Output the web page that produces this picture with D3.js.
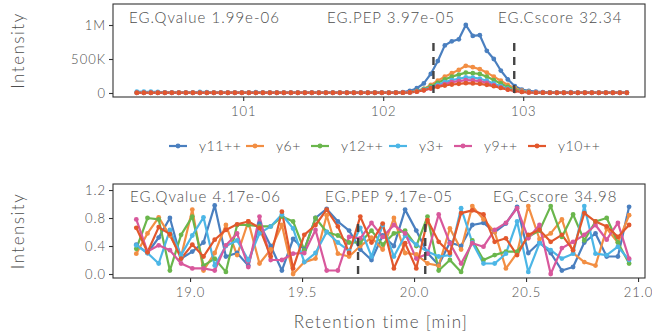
<!DOCTYPE html>
<html>
<head>
<meta charset="utf-8">
<script src="https://cdn.jsdelivr.net/npm/d3@7"></script>
<style>
  body { margin: 0; background: #fff; }
  svg text { font-family: Lato, 'DejaVu Sans', sans-serif; font-weight: 300; fill: #4d4d4d; }
</style>
</head>
<body>
<div id="chart"></div>
<script>
// fragment names, in legend / draw order
const fragments = ["y11++", "y6+", "y12++", "y3+", "y9++", "y10++"];
const colors = ["#4a7fbf", "#f28e43", "#6ab64c", "#4cb6e6", "#d8589c", "#e2572c"];

// ---- top panel: raw intensities (in K) ----
const rtTop = [100.24,100.29,100.34,100.39,100.44,100.49,100.54,100.59,100.64,100.69,
    100.74,100.79,100.84,100.89,100.94,100.99,101.04,101.09,101.14,101.19,
    101.24,101.29,101.34,101.39,101.44,101.49,101.54,101.59,101.64,101.69,
    101.74,101.79,101.84,101.89,101.94,101.99,102.04,102.09,102.14,102.19,
    102.24,102.29,102.34,102.39,102.44,102.49,102.54,102.59,102.64,102.69,
    102.74,102.79,102.84,102.89,102.94,102.99,103.04,103.09,103.14,103.19,
    103.24,103.29,103.34,103.39,103.44,103.49,103.54,103.59,103.64,103.69,103.74];

const y11Top = [5,6,5,4,5,5,6,5,4,5, 5,5,6,5,5,4,5,5,5,6, 5,5,4,5,5,5,6,5,5,5, 4,5,5,5,6,5,5,8,
    12,30,70,140,280,470,700,760,790,1000,840,850,620,500,330,200,100,50,30,20,12,
    8,6,5,5,5,4,5,5,5,5,4,5];
const y6Top = [3,3,3,3,3,3,3,3,3,3, 3,3,3,3,3,3,3,3,3,3, 3,3,3,3,3,3,3,3,3,3, 3,3,3,3,3,3,3,4,
    5,10,25,60,120,180,240,290,340,400,380,350,300,240,180,120,70,35,18,10,6,
    4,3,3,3,3,3,3,3,3,3,3,3];
const y12Top = [3,3,3,3,3,3,3,3,3,3, 3,3,3,3,3,3,3,3,3,3, 3,3,3,3,3,3,3,3,3,3, 3,3,3,3,3,3,3,3,
    4,10,30,60,100,150,200,240,270,300,290,280,240,190,140,90,50,25,12,7,5,
    4,3,3,3,3,3,3,3,3,3,3,3];
const y3Top = [20,18,18,16,8,6,6,6,6,15, 14,6,6,6,6,6,6,14,6,6, 6,6,6,6,6,6,6,6,6,6, 6,6,6,6,6,6,6,6,
    6,10,25,50,80,120,160,190,210,230,225,210,180,140,100,65,35,20,15,10,8,
    8,6,6,12,6,6,6,6,6,6,6,6];
const y9Top = [3,3,3,3,3,3,3,3,3,3, 3,3,3,3,3,3,3,3,3,3, 3,3,3,3,3,3,3,3,3,3, 3,3,3,3,3,3,3,3,
    4,8,20,40,65,100,130,160,175,190,185,175,150,115,80,50,30,15,8,5,4,
    3,3,3,3,3,3,3,3,3,3,3,3];
const y10Top = [4,4,4,4,4,4,4,4,4,4, 4,4,4,4,4,4,4,4,4,4, 4,4,4,4,4,4,4,4,4,4, 4,4,4,4,4,4,4,4,
    4,8,20,40,70,90,110,125,135,145,140,135,120,100,75,50,30,15,8,5,4,
    4,4,4,4,4,4,4,4,4,4,4,4];

// ---- bottom panel: normalised intensities ----
const rtBottom = [18.76,18.81,18.86,18.91,18.96,19.01,19.06,19.11,19.16,19.21,
    19.26,19.31,19.36,19.41,19.46,19.51,19.56,19.61,19.66,19.71,
    19.76,19.81,19.86,19.91,19.96,20.01,20.06,20.11,20.16,20.21,
    20.26,20.31,20.36,20.41,20.46,20.51,20.56,20.61,20.66,20.71,
    20.76,20.81,20.86,20.91,20.96];

const y11Bottom = [0.42,0.30,0.52,0.80,0.22,0.32,0.45,0.98,0.25,0.30, 0.12,0.72,0.40,0.05,0.50,0.35,0.80,0.93,0.75,0.62,
    0.35,0.20,0.55,0.40,0.92,0.62,0.30,0.13,0.45,0.40, 0.70,0.73,0.60,0.72,0.96,0.30,0.45,0.30,0.05,0.10, 0.45,0.58,0.25,0.25,0.96];
const y6Bottom = [0.29,0.58,0.81,0.55,0.25,0.92,0.05,0.30,0.70,0.27, 0.75,0.15,0.35,0.70,0.00,0.17,0.22,0.84,0.29,0.25,
    0.40,0.52,0.35,0.80,0.30,0.28,0.15,0.12,0.65,0.35, 0.97,0.78,0.60,0.08,0.30,0.97,0.50,0.58,0.78,0.30, 0.17,0.12,0.65,0.45,0.84];
const y12Bottom = [0.36,0.80,0.78,0.05,0.56,0.82,0.12,0.22,0.03,0.70, 0.70,0.68,0.68,0.82,0.75,0.34,0.80,0.60,0.55,0.45,
    0.45,0.62,0.42,0.58,0.62,0.40,0.82,0.05,0.20,0.03, 0.48,0.20,0.27,0.32,0.32,0.53,0.62,0.97,0.53,0.85, 0.48,0.75,0.80,0.45,0.15];
const y3Bottom = [0.41,0.30,0.15,0.63,0.27,0.55,0.81,0.12,0.40,0.48, 0.20,0.58,0.68,0.85,0.65,0.17,0.30,0.60,0.45,0.33,
    0.66,0.25,0.70,0.25,0.55,0.42,0.32,0.25,0.27,0.94, 0.45,0.15,0.15,0.29,0.75,0.03,0.44,0.34,0.22,0.29, 0.97,0.29,0.27,0.39,0.20];
const y9Bottom = [0.78,0.32,0.41,0.34,0.15,0.08,0.08,0.05,0.41,0.58, 0.10,0.82,0.20,0.20,0.29,0.30,0.63,0.05,0.05,0.53,
    0.51,0.73,0.53,0.70,0.58,0.22,0.29,0.85,0.44,0.15, 0.44,0.39,0.63,0.73,0.94,0.51,0.70,0.00,0.37,0.46, 0.56,0.70,0.49,0.73,0.22];
const y10Bottom = [0.66,0.31,0.67,0.57,0.22,0.42,0.25,0.49,0.63,0.71, 0.75,0.66,0.25,0.89,0.08,0.56,0.70,0.92,0.68,0.30,
    0.82,0.45,0.72,0.08,0.44,0.08,0.77,0.46,0.30,0.87, 0.91,0.85,0.46,0.51,0.27,0.56,0.63,0.46,0.56,0.34, 0.87,0.75,0.68,0.53,0.70];

// peak boundaries (dashed lines) and scores
const boundsTop = [102.359, 102.936];
const boundsBottom = [19.75, 20.05];
const dashTopK = 820, dashBottom = 0.8;
const scoresTop = ["EG.Qvalue 1.99e-06", "EG.PEP 3.97e-05", "EG.Cscore 32.34"];
const scoresBottom = ["EG.Qvalue 4.17e-06", "EG.PEP 9.17e-05", "EG.Cscore 34.98"];

const topTicksX = [101, 102, 103];
const topTicksY = [0, 500, 1000];
const topTickLabelsY = ["0", "500K", "1M"];
const bottomTicksX = [19.0, 19.5, 20.0, 20.5, 21.0];
const bottomTicksY = [0.0, 0.4, 0.8, 1.2];

const topSeries = [y11Top, y6Top, y12Top, y3Top, y9Top, y10Top];
const bottomSeries = [y11Bottom, y6Bottom, y12Bottom, y3Bottom, y9Bottom, y10Bottom];

const width = 652, height = 331;
const svg = d3.select("#chart").append("svg")
    .attr("width", width)
    .attr("height", height);

function drawPanel(opt) {
    let x = d3.scaleLinear().domain(opt.xDomain).range([113, 645]);
    let y = d3.scaleLinear().domain(opt.yDomain).range([opt.bottom, opt.top]);

    let g = svg.append("g");

    // axes
    let xAxis = d3.axisBottom(x).tickValues(opt.xTicks).tickSize(4).tickPadding(6)
        .tickFormat(opt.xFormat);
    let yAxis = d3.axisLeft(y).tickValues(opt.yTicks).tickSize(4).tickPadding(3)
        .tickFormat(opt.yFormat);

    let gx = g.append("g").attr("transform", `translate(0, ${opt.bottom})`).call(xAxis);
    let gy = g.append("g").attr("transform", `translate(113, 0)`).call(yAxis);
    [gx, gy].forEach(a => {
        a.select(".domain").remove();
        a.selectAll(".tick line").attr("stroke", "#333").attr("stroke-width", 1.1);
        a.selectAll(".tick text").style("font-size", "13px").style("fill", "#4d4d4d")
            .style("font-family", "Lato, 'DejaVu Sans', sans-serif")
            .style("letter-spacing", "1px");
    });

    // lines
    let line = d3.line().x(d => x(d[0])).y(d => y(d[1]));
    opt.series.forEach((s, i) => {
        let pts = opt.rt.map((t, j) => [t, s[j]]);
        g.append("path").datum(pts)
            .attr("d", line)
            .attr("fill", "none")
            .attr("stroke", colors[i])
            .attr("stroke-width", 2.2)
            .attr("stroke-linejoin", "round");
    });
    opt.series.forEach((s, i) => {
        g.append("g").selectAll("circle")
            .data(opt.rt.map((t, j) => [t, s[j]]))
            .enter().append("circle")
            .attr("cx", d => x(d[0]))
            .attr("cy", d => y(d[1]))
            .attr("r", 2.4)
            .attr("fill", colors[i]);
    });

    // dashed peak boundaries
    opt.bounds.forEach(b => {
        g.append("line")
            .attr("x1", x(b)).attr("x2", x(b))
            .attr("y1", y(0)).attr("y2", y(opt.dashTo))
            .attr("stroke", "#444")
            .attr("stroke-width", 2.4)
            .attr("stroke-dasharray", "8,6");
    });

    // scores
    opt.scores.forEach((s, i) => {
        g.append("text")
            .attr("x", opt.scoreX[i])
            .attr("y", opt.scoreY)
            .style("font-size", "15px")
            .style("letter-spacing", "1px")
            .text(s);
    });

    // frame
    g.append("rect")
        .attr("x", 113).attr("y", opt.top)
        .attr("width", 645 - 113).attr("height", opt.bottom - opt.top)
        .attr("fill", "none").attr("stroke", "#333").attr("stroke-width", 1.1);

    // y title
    svg.append("text")
        .attr("transform", `translate(24, ${(opt.top + opt.bottom) / 2}) rotate(-90)`)
        .attr("text-anchor", "middle")
        .style("font-size", "17px")
        .style("letter-spacing", "1.5px")
        .text("Intensity");
}

drawPanel({
    top: 4, bottom: 97,
    xDomain: [100.07, 103.87], yDomain: [-59, 1309],
    xTicks: topTicksX, yTicks: topTicksY,
    xFormat: d3.format("d"),
    yFormat: (d, i) => topTickLabelsY[i],
    rt: rtTop, series: topSeries,
    bounds: boundsTop, dashTo: dashTopK,
    scores: scoresTop, scoreX: [129, 327, 498], scoreY: 23
});

drawPanel({
    top: 184, bottom: 278,
    xDomain: [18.656, 21.031], yDomain: [-0.057, 1.286],
    xTicks: bottomTicksX, yTicks: bottomTicksY,
    xFormat: d3.format(".1f"),
    yFormat: d3.format(".1f"),
    rt: rtBottom, series: bottomSeries,
    bounds: boundsBottom, dashTo: dashBottom,
    scores: scoresBottom, scoreX: [130, 325, 493], scoreY: 202
});

// legend
const legendX = [169, 246, 311, 389, 454, 528];
const legend = svg.append("g").attr("transform", "translate(0, 146)");
fragments.forEach((f, i) => {
    let lg = legend.append("g").attr("transform", `translate(${legendX[i]}, 0)`);
    lg.append("line").attr("x1", 0).attr("x2", 18).attr("y1", 0).attr("y2", 0)
        .attr("stroke", colors[i]).attr("stroke-width", 2.2);
    lg.append("circle").attr("cx", 9).attr("cy", 0).attr("r", 2.4).attr("fill", colors[i]);
    lg.append("text").attr("x", 30).attr("y", 5)
        .style("font-size", "14px")
        .style("letter-spacing", "0.6px")
        .text(f);
});

// x title
svg.append("text")
    .attr("x", 381).attr("y", 328)
    .attr("text-anchor", "middle")
    .style("font-size", "17px")
    .style("letter-spacing", "1.3px")
    .text("Retention time [min]");
</script>
</body>
</html>
